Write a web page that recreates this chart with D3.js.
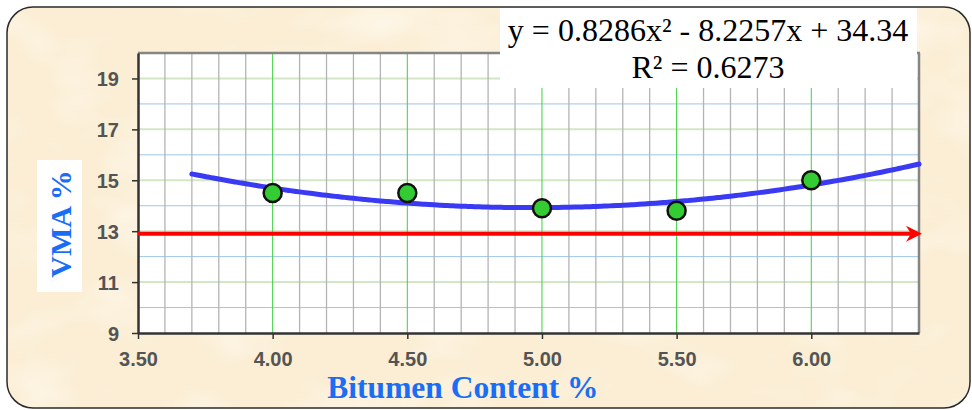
<!DOCTYPE html>
<html>
<head>
<meta charset="utf-8">
<script src="https://cdn.jsdelivr.net/npm/d3@7/dist/d3.min.js"></script>
<style>
  html, body { margin: 0; padding: 0; background: #ffffff; }
  svg { display: block; }
</style>
</head>
<body>
<script>
// Measured VMA at each bitumen content
const bitumen = [4.0, 4.5, 5.0, 5.5, 6.0];
const vma = [14.5, 14.5, 13.9, 13.8, 15.0];

// Polynomial trendline y = a x^2 + b x + c and its fit
const trendCoef = [0.8286, -8.2257, 34.34];
const trendRange = [3.7, 6.4];
const rSquared = 0.6273;

// Minimum VMA requirement
const vmaMin = [12.9];

// Axis ticks
const xTicks = [3.5, 4.0, 4.5, 5.0, 5.5, 6.0];
const yTicks = [9, 11, 13, 15, 17, 19];
const xMinor = d3.range(36, 64, 1).map(d => d / 10);
const yMinor = d3.range(10, 20, 1);

const W = 972, H = 410;
const svg = d3.select("body").append("svg").attr("width", W).attr("height", H);
const defs = svg.append("defs");

// parchment texture
const f = defs.append("filter").attr("id", "paper").attr("x", 0).attr("y", 0).attr("width", "100%").attr("height", "100%");
f.append("feTurbulence").attr("type", "fractalNoise").attr("baseFrequency", "0.01 0.018").attr("numOctaves", 3).attr("seed", 7).attr("result", "n");
f.append("feColorMatrix").attr("in", "n").attr("type", "matrix")
  .attr("values", "0 0 0 0 1  0 0 0 0 0.98  0 0 0 0 0.93  0 0 0 -1.2 0.62");
const clipBg = defs.append("clipPath").attr("id", "bgclip");
clipBg.append("rect").attr("x", 7).attr("y", 7).attr("width", 963).attr("height", 401).attr("rx", 26).attr("ry", 26);

svg.append("rect").attr("x", 7).attr("y", 7).attr("width", 963).attr("height", 401)
  .attr("rx", 26).attr("ry", 26).attr("fill", "#fbeed5");
svg.append("g").attr("clip-path", "url(#bgclip)")
  .append("rect").attr("x", 7).attr("y", 7).attr("width", 963).attr("height", 401)
  .attr("filter", "url(#paper)");
svg.append("rect").attr("x", 7).attr("y", 7).attr("width", 963).attr("height", 401)
  .attr("rx", 26).attr("ry", 26).attr("fill", "none").attr("stroke", "#2b2b2b").attr("stroke-width", 1.5);

const L = 138, R = 919, T = 53, B = 333;
const x = d3.scaleLinear().domain([3.5, 6.4]).range([L, R]);
const y = d3.scaleLinear().domain([9, 20]).range([B, T]);

// plot area
svg.append("rect").attr("x", L).attr("y", T).attr("width", R - L).attr("height", B - T).attr("fill", "#ffffff");

// horizontal grid: blue on even values, pale green on labelled values
svg.append("g").selectAll("line").data(yMinor.filter(v => v % 2 === 0)).join("line")
  .attr("x1", L).attr("x2", R).attr("y1", d => y(d)).attr("y2", d => y(d))
  .attr("stroke", "#9fc4e8").attr("stroke-width", 1);
svg.append("g").selectAll("line").data(yTicks.filter(v => v > 9)).join("line")
  .attr("x1", L).attr("x2", R).attr("y1", d => y(d)).attr("y2", d => y(d))
  .attr("stroke", "#d3e6c6").attr("stroke-width", 2);

// vertical grid: grey every 0.1, green at each 0.5
const isHalf = d => Math.abs(d * 2 - Math.round(d * 2)) < 1e-6;
svg.append("g").selectAll("line").data(xMinor).join("line")
  .attr("x1", d => x(d)).attr("x2", d => x(d)).attr("y1", T).attr("y2", B)
  .attr("stroke", d => isHalf(d) ? "#3fd03f" : "#b4b4b4")
  .attr("stroke-width", d => isHalf(d) ? 1 : 1.3);

// frame: grey top/right, dark left/bottom axes
svg.append("line").attr("x1", L).attr("x2", R + 1).attr("y1", T).attr("y2", T).attr("stroke", "#858585").attr("stroke-width", 2.5);
svg.append("line").attr("x1", R).attr("x2", R).attr("y1", T).attr("y2", B).attr("stroke", "#858585").attr("stroke-width", 2.5);

const xAxis = d3.axisBottom(x).tickValues(xTicks).tickFormat(d3.format(".2f")).tickSize(6).tickSizeOuter(0);
const yAxis = d3.axisLeft(y).tickValues(yTicks).tickFormat(d3.format("d")).tickSize(6).tickSizeOuter(0);

const gx = svg.append("g").attr("transform", `translate(0,${B})`).call(xAxis);
const gy = svg.append("g").attr("transform", `translate(${L},0)`).call(yAxis);
[gx, gy].forEach(g => {
  g.select(".domain").attr("stroke", "#333333").attr("stroke-width", 2.5);
  g.selectAll(".tick line").attr("stroke", "#333333").attr("stroke-width", 1.5);
  g.selectAll(".tick text").attr("fill", "#545454")
    .style("font-family", "'Liberation Sans', Arial, sans-serif")
    .style("font-weight", "bold").style("font-size", "20px");
});
gx.selectAll(".tick text").attr("dy", null).attr("y", 33);
gy.selectAll(".tick text").attr("x", -19).attr("dy", "0.36em");

// minimum VMA line with arrow
const redY = y(vmaMin[0]);
const tipX = x(6.4) + 3;
svg.append("line").attr("x1", x(3.5)).attr("x2", tipX - 8).attr("y1", redY).attr("y2", redY)
  .attr("stroke", "#ff0000").attr("stroke-width", 4);
svg.append("path")
  .attr("d", `M${tipX},${redY} L${tipX - 16},${redY - 8} L${tipX - 11},${redY} L${tipX - 16},${redY + 8} Z`)
  .attr("fill", "#ff0000");

// trendline
const poly = v => trendCoef[0] * v * v + trendCoef[1] * v + trendCoef[2];
const xs = d3.range(trendRange[0], trendRange[1] + 1e-9, 0.02);
svg.append("path").datum(xs)
  .attr("d", d3.line().x(d => x(d)).y(d => y(poly(d))).curve(d3.curveBasis))
  .attr("fill", "none").attr("stroke", "#3a3af5").attr("stroke-width", 5).attr("stroke-linecap", "round");

// data points
svg.append("g").selectAll("circle").data(bitumen.map((b, i) => [b, vma[i]])).join("circle")
  .attr("cx", d => x(d[0])).attr("cy", d => y(d[1])).attr("r", 9)
  .attr("fill", "#33cc33").attr("stroke", "#111111").attr("stroke-width", 2.5);

// equation label
svg.append("rect").attr("x", 500).attr("y", 8).attr("width", 417).attr("height", 80).attr("fill", "#ffffff");
const eq = svg.append("text").attr("x", 708).attr("text-anchor", "middle")
  .style("font-family", "'Liberation Serif', 'Times New Roman', serif").style("font-size", "32px").attr("fill", "#000");
const fmt = v => Math.abs(v).toString();
eq.append("tspan").attr("x", 708).attr("y", 41)
  .text(`y = ${fmt(trendCoef[0])}x² ${trendCoef[1] < 0 ? "-" : "+"} ${fmt(trendCoef[1])}x ${trendCoef[2] < 0 ? "-" : "+"} ${fmt(trendCoef[2])}`);
eq.append("tspan").attr("x", 708).attr("y", 78).text(`R² = ${rSquared}`);

// axis titles
svg.append("text").attr("x", 463).attr("y", 398).attr("text-anchor", "middle")
  .style("font-family", "'Liberation Serif', 'Times New Roman', serif").style("font-weight", "bold").style("font-size", "31.5px")
  .attr("fill", "#1a6ef5").text("Bitumen Content %");

svg.append("rect").attr("x", 37).attr("y", 160).attr("width", 45).attr("height", 132).attr("fill", "#ffffff");
svg.append("text").attr("transform", "translate(71,224) rotate(-90)").attr("text-anchor", "middle")
  .style("font-family", "'Liberation Serif', 'Times New Roman', serif").style("font-weight", "bold").style("font-size", "30px")
  .attr("fill", "#1a6ef5").text("VMA %");
</script>
</body>
</html>
